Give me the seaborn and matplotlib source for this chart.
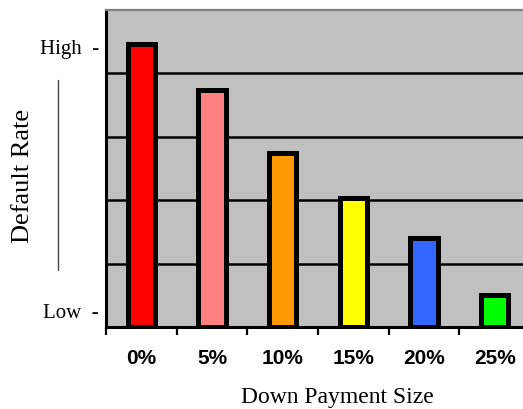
import matplotlib
matplotlib.use("Agg")
import matplotlib.pyplot as plt
from matplotlib.lines import Line2D
import seaborn as sns
import pandas as pd

# Relative default rate by down payment size (0 = bottom of scale)
down_payment = ["0%", "5%", "10%", "15%", "20%", "25%"]
default_rate = [4.46, 3.74, 2.74, 2.04, 1.40, 0.50]
bar_colors = ["#FF0000", "#FF8080", "#FF9900", "#FFFF00", "#3366FF", "#00FF00"]

# Qualitative scale labels on the y axis
scale_labels = ["Low", "High"]
scale_positions = [0.25, 4.42]

df = pd.DataFrame({"payment": down_payment, "rate": default_rate})

sns.set_style("white")
plt.rcParams["text.color"] = "black"
plt.rcParams["xtick.color"] = "black"
plt.rcParams["ytick.color"] = "black"

W, H = 523, 409
fig = plt.figure(figsize=(W / 100, H / 100), dpi=100)
ax = fig.add_axes([106 / W, (H - 327) / H, 424 / W, 317 / H])

sns.barplot(data=df, x="payment", y="rate", hue="payment", palette=bar_colors,
            legend=False, width=0.39, edgecolor="black", linewidth=3.6,
            saturation=1, ax=ax, zorder=3)

ax.set_facecolor("#C0C0C0")
ax.set_xlim(-0.5, 5.5)
ax.set_ylim(0, 5)

# horizontal gridlines
for yv in [1, 2, 3, 4]:
    ax.axhline(yv, color="black", lw=1.8, zorder=1)

for side in ["left", "bottom"]:
    ax.spines[side].set_color("black")
    ax.spines[side].set_linewidth(2.2)
ax.spines["top"].set_color("#808080")
ax.spines["top"].set_linewidth(1.6)
ax.spines["right"].set_visible(False)

# x tick marks at category boundaries, labels centred under bars
ax.set_xticks([i - 0.5 for i in range(len(down_payment) + 1)], minor=True)
ax.tick_params(axis="x", which="minor", direction="out", length=6, width=1.6,
               color="black", bottom=True)
ax.set_xticks(range(len(down_payment)))
ax.set_xticklabels(down_payment, fontfamily="Liberation Sans",
                   fontweight="bold", fontsize=15, color="black")
ax.tick_params(axis="x", which="major", length=0, pad=16, labelcolor="black")

ax.set_yticks(scale_positions)
ax.set_yticklabels([lbl + "  -" for lbl in scale_labels],
                   fontfamily="Liberation Serif", fontsize=15, color="black")
ax.tick_params(axis="y", length=0, pad=5, labelcolor="black")

ax.set_xlabel("")
ax.set_ylabel("")

fig.text(337 / W, 1 - 398 / H, "Down Payment Size", fontfamily="Liberation Serif",
         fontsize=17, ha="center", va="center", color="black")
fig.text(23 / W, 1 - 176 / H, "Default Rate", fontfamily="Liberation Serif",
         fontsize=19, ha="center", va="center", rotation=90, color="black")
fig.add_artist(Line2D([58 / W, 58 / W], [1 - 80 / H, 1 - 270 / H],
                      color="#444444", lw=1.0, transform=fig.transFigure))

fig.savefig("out.png", dpi=100)
